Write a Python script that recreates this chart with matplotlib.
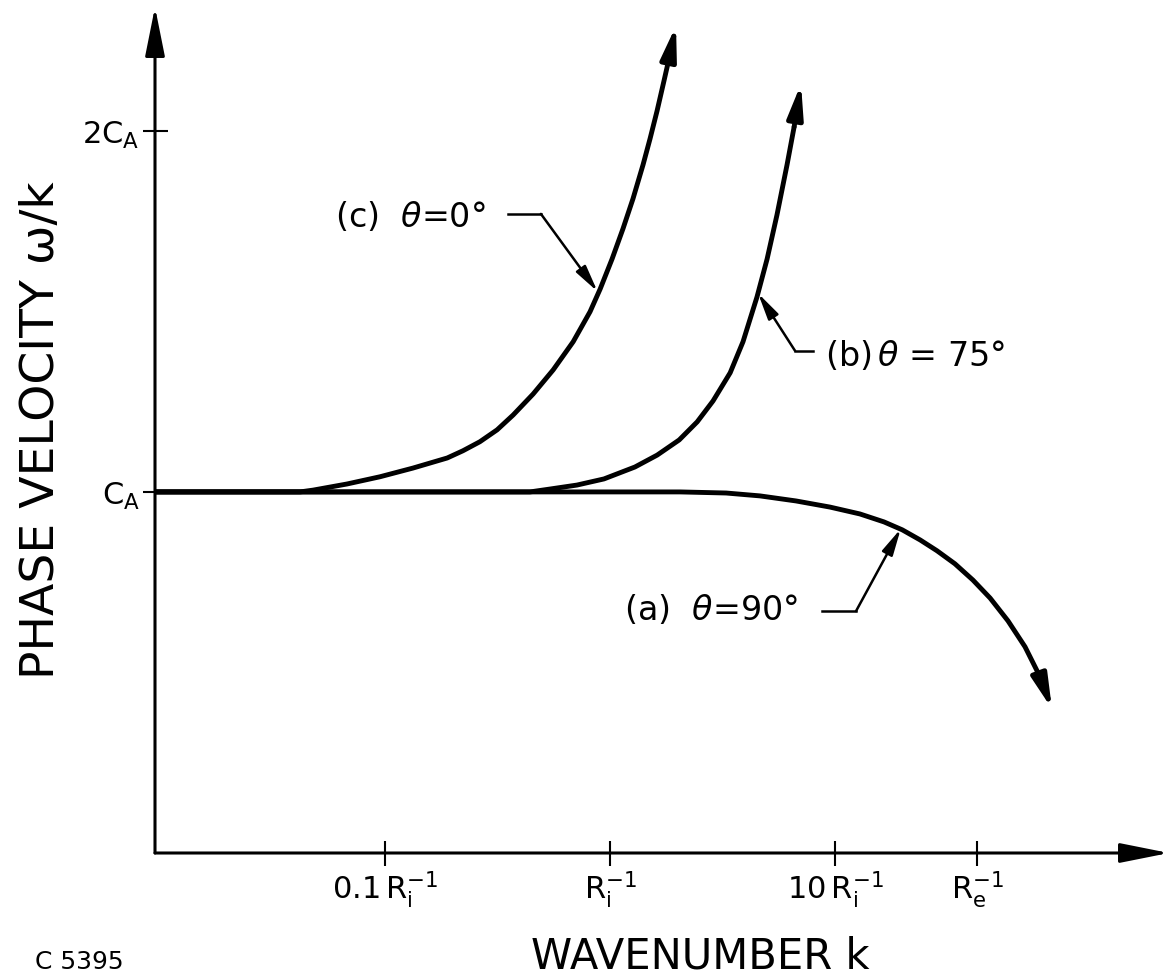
import matplotlib
matplotlib.use("Agg")
import matplotlib.pyplot as plt
from matplotlib.ticker import NullLocator

# wavenumber k in units of 1/R_i, phase velocity in units of C_A
# (a) theta = 90 deg
k_a = [0.0095, 1.03, 2.05, 3.28, 4.64, 6.71, 9.50, 12.9, 16.5, 19.9, 23.9,
       28.4, 34.1, 41.0, 48.9, 58.7, 69.9, 81.5, 92.1]
v_a = [1.0, 1.0, 1.0, 0.997, 0.989, 0.975, 0.958, 0.939, 0.917, 0.895, 0.867,
       0.837, 0.801, 0.756, 0.706, 0.643, 0.571, 0.488, 0.399]

# (b) theta = 75 deg
k_b = [0.0095, 0.441, 0.541, 0.713, 0.940, 1.29, 1.62, 2.03, 2.44, 2.87,
       3.42, 3.90, 4.50, 4.99, 5.52, 6.12, 6.58, 7.06]
v_b = [1.0, 1.0, 1.008, 1.019, 1.036, 1.069, 1.102, 1.144, 1.194, 1.252,
       1.330, 1.416, 1.540, 1.645, 1.767, 1.906, 2.011, 2.130]

# (c) theta = 0 deg
k_c = [0.0095, 0.0419, 0.0479, 0.0678, 0.095, 0.133, 0.189, 0.222, 0.264,
       0.315, 0.371, 0.455, 0.559, 0.686, 0.815, 0.904, 1.021, 1.142, 1.265,
       1.402, 1.506, 1.618, 1.738, 1.849, 1.965]
v_c = [1.0, 1.0, 1.005, 1.022, 1.042, 1.066, 1.094, 1.114, 1.139, 1.172,
       1.213, 1.271, 1.338, 1.416, 1.499, 1.562, 1.645, 1.729, 1.812, 1.906,
       1.978, 2.055, 2.139, 2.213, 2.291]

x_ticks = [0.1, 1.0, 10.0, 42.8]
x_labels = [r'$0.1\,\mathrm{R}_\mathrm{i}^{-1}$', r'$\mathrm{R}_\mathrm{i}^{-1}$',
            r'$10\,\mathrm{R}_\mathrm{i}^{-1}$', r'$\mathrm{R}_\mathrm{e}^{-1}$']
y_ticks = [1, 2]
y_labels = [r'$\mathrm{C}_\mathrm{A}$', r'$2\mathrm{C}_\mathrm{A}$']

curve_labels = [r'(a)  $\theta$=90°', r'(b)$\,\theta$ = 75°', r'(c)  $\theta$=0°']

plt.rcParams['font.family'] = 'DejaVu Sans'

fig = plt.figure(figsize=(11.69, 9.79), dpi=100)
ax = fig.add_axes([155 / 1169, 125 / 979, 1014 / 1169, 846 / 979])
ax.set_xscale('log')
ax.set_xlim(0.0095, 305)
ax.set_ylim(0, 2.343)
for s in ax.spines.values():
    s.set_visible(False)
ax.xaxis.set_minor_locator(NullLocator())

# axes with arrow heads
axis_arrow = dict(arrowstyle='-|>,head_length=3.0,head_width=0.6', lw=2.2,
                  color='k', shrinkA=0, shrinkB=0)
ax.annotate('', xy=(0, 1), xytext=(0, 0), xycoords='axes fraction',
            arrowprops=axis_arrow)
ax.annotate('', xy=(1, 0), xytext=(0, 0), xycoords='axes fraction',
            arrowprops=axis_arrow)

ax.set_xticks(x_ticks)
ax.set_xticklabels(x_labels, fontsize=22)
ax.set_yticks(y_ticks)
ax.set_yticklabels(y_labels, fontsize=22)
ax.tick_params(axis='both', direction='inout', length=18, width=1.5, color='k')
ax.tick_params(axis='x', pad=2)
ax.tick_params(axis='y', pad=2)

# curves
end_arrow = dict(arrowstyle='-|>,head_length=2.0,head_width=0.47', lw=3.5,
                 color='k', shrinkA=0, shrinkB=0)
for k, v in [(k_a, v_a), (k_b, v_b), (k_c, v_c)]:
    ax.plot(k[:-1], v[:-1], color='k', lw=3.5, solid_capstyle='round',
            solid_joinstyle='round')
    ax.annotate('', xy=(k[-1], v[-1]), xytext=(k[-2], v[-2]),
                arrowprops=end_arrow)

# labels with leader lines
lead_arrow = dict(arrowstyle='-|>,head_length=1.6,head_width=0.35', lw=1.8,
                  color='k', shrinkA=0, shrinkB=0)

# (c)
ax.text(0.060, 1.765, curve_labels[2], ha='left', va='center', fontsize=24)
ax.plot([0.352, 0.493], [1.770, 1.770], color='k', lw=1.8)
ax.annotate('', xy=(0.88, 1.555), xytext=(0.493, 1.770), arrowprops=lead_arrow)

# (b)
ax.text(9.03, 1.380, curve_labels[1], ha='left', va='center', fontsize=24)
ax.plot([6.64, 7.98], [1.391, 1.391], color='k', lw=1.8)
ax.annotate('', xy=(4.55, 1.55), xytext=(6.64, 1.391), arrowprops=lead_arrow)

# (a)
ax.text(1.153, 0.676, curve_labels[0], ha='left', va='center', fontsize=24)
ax.plot([8.75, 12.4], [0.670, 0.670], color='k', lw=1.8)
ax.annotate('', xy=(19.6, 0.898), xytext=(12.4, 0.670), arrowprops=lead_arrow)

fig.text(42 / 1169, 1 - 430 / 979, 'PHASE VELOCITY ω/k', rotation=90,
         ha='center', va='center', fontsize=34)
fig.text(700 / 1169, 1 - 957 / 979, 'WAVENUMBER k', ha='center', va='center',
         fontsize=30)
fig.text(35 / 1169, 1 - 962 / 979, 'C 5395', ha='left', va='center', fontsize=18)

fig.savefig('out.png', dpi=100)
